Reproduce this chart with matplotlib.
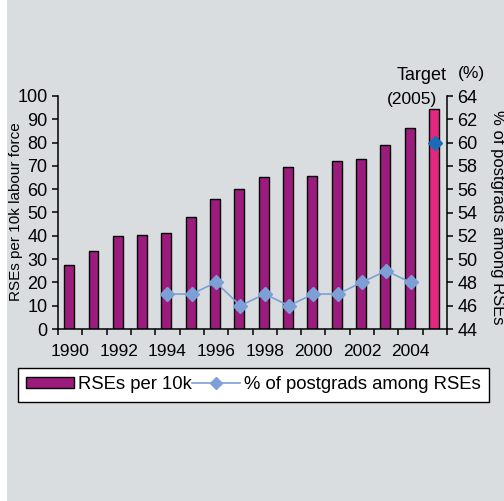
import matplotlib
matplotlib.use("Agg")
import matplotlib.pyplot as plt
from matplotlib.patches import Rectangle, Patch
from matplotlib.lines import Line2D
import numpy as np

plt.rcParams['font.family'] = ['Liberation Sans', 'DejaVu Sans']

# data
years = [1990, 1991, 1992, 1993, 1994, 1995, 1996, 1997,
         1998, 1999, 2000, 2001, 2002, 2003, 2004, 2005]
rses_per_10k = [27.6, 33.4, 39.7, 40.3, 41.4, 47.9, 55.9, 59.9,
                65.1, 69.7, 65.7, 72.1, 73.1, 79.0, 86.4, 94.6]
pg_years = [1994, 1995, 1996, 1997, 1998, 1999, 2000, 2001, 2002, 2003, 2004]
pg_share = [47, 47, 48, 46, 47, 46, 47, 47, 48, 49, 48]
target_year = 2005
target_share = 60
year_labels = ['1990', '1992', '1994', '1996', '1998', '2000', '2002', '2004']

bg = '#d9dde0'
purple = '#9c1c7d'
pink = '#e2287f'
light_blue = '#7d9fd6'
dark_blue = '#1b6cb8'

fig = plt.figure(figsize=(5.04, 5.01), dpi=100, facecolor='white')
fig.patches.append(Rectangle((7 / 504, 0), 1, 1, transform=fig.transFigure,
                             facecolor=bg, edgecolor='none', zorder=-10))

ax = fig.add_axes([58 / 504, 1 - 329 / 501, (447 - 58) / 504, (329 - 96) / 501])
ax.patch.set_visible(False)

x = np.arange(len(years))
colors = [purple] * (len(years) - 1) + [pink]
ax.bar(x - 0.04, rses_per_10k, width=0.41, color=colors, edgecolor='black', linewidth=1.0)
ax.set_xlim(-0.5, len(years) - 0.5)
ax.set_ylim(0, 100)
ax.set_yticks(range(0, 101, 10))
ax.tick_params(axis='y', direction='out', length=4.5, width=1.1, pad=3, labelsize=13)

# boundary ticks without labels, year labels at bar centres
ax.set_xticks(np.arange(-0.5, len(years), 1.0), minor=True)
ax.set_xticks([years.index(int(y)) for y in year_labels])
ax.set_xticklabels(year_labels)
ax.tick_params(axis='x', which='minor', direction='out', length=4.5, width=1.1)
ax.tick_params(axis='x', which='major', length=0, pad=11, labelsize=12.5)

for s in ['top', 'right']:
    ax.spines[s].set_visible(False)
for s in ['left', 'bottom']:
    ax.spines[s].set_linewidth(1.1)

ax2 = ax.twinx()
ax2.patch.set_visible(False)
px = [years.index(y) for y in pg_years]
ax2.plot(px, pg_share, color=light_blue, lw=1.2, marker='D', ms=7,
         markeredgecolor=light_blue)
ax2.plot([years.index(target_year)], [target_share], ls='none', marker='D', ms=7,
         color=dark_blue)
ax2.set_ylim(44, 64)
ax2.set_yticks(range(44, 65, 2))
ax2.tick_params(axis='y', direction='out', length=4.5, width=1.1, pad=3, labelsize=13)
for s in ['top', 'left', 'bottom']:
    ax2.spines[s].set_visible(False)
ax2.spines['right'].set_linewidth(1.1)

ax.text(1.0, 1.087, 'Target', transform=ax.transAxes, ha='right', va='center', fontsize=13)
ax.text(0.975, 0.985, '(2005)', transform=ax.transAxes, ha='right', va='center', fontsize=12.5)
ax.text(1.064, 1.095, '(%)', transform=ax.transAxes, ha='center', va='center', fontsize=12.5)

fig.text(16 / 504, 1 - 212 / 501, 'RSEs per 10k labour force', rotation=90,
         ha='center', va='center', fontsize=11)
fig.text(497 / 504, 1 - 217 / 501, '% of postgrads among RSEs', rotation=-90,
         ha='center', va='center', fontsize=12)

handles = [Patch(facecolor=purple, edgecolor='black', linewidth=1.0),
           Line2D([], [], color=light_blue, lw=1.2, marker='D', ms=6)]
leg = fig.legend(handles, ['RSEs per 10k', '% of postgrads among RSEs'],
                 loc='upper left', bbox_to_anchor=(18 / 504, 1 - 368 / 501),
                 ncol=2, fontsize=13.3, frameon=True, fancybox=False,
                 framealpha=1, edgecolor='black', handlelength=2.6,
                 handleheight=0.5, handletextpad=0.2, columnspacing=0.0,
                 borderpad=0.45, borderaxespad=0)
leg.get_frame().set_linewidth(1.0)

fig.savefig('out.png', dpi=100, facecolor=fig.get_facecolor())
